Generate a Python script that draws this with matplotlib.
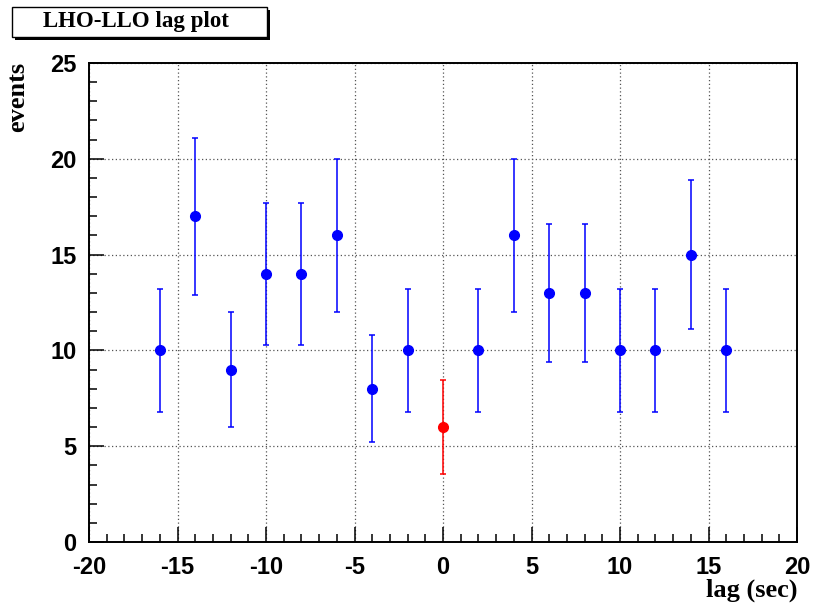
import numpy as np
import matplotlib
matplotlib.use('Agg')
import matplotlib.pyplot as plt
from matplotlib.patches import Rectangle
from matplotlib.ticker import MultipleLocator

plt.rcParams['axes.unicode_minus'] = False

# lag values (sec) and event counts
lags = [-16, -14, -12, -10, -8, -6, -4, -2, 0, 2, 4, 6, 8, 10, 12, 14, 16]
events = [10, 17, 9, 14, 14, 16, 8, 10, 6, 10, 16, 13, 13, 10, 10, 15, 10]
errors = [3.2, 4.1, 3.0, 3.7, 3.7, 4.0, 2.8, 3.2, 2.45, 3.2, 4.0, 3.6, 3.6, 3.2, 3.2, 3.9, 3.2]
zero_lag = 0

sans = 'Liberation Sans'
serif = 'Liberation Serif'

fig = plt.figure(figsize=(8.13, 6.03), dpi=100)
ax = fig.add_axes([89/813, 61/603, 708/813, 479/603])

lags = np.array(lags)
events = np.array(events)
errors = np.array(errors)
bg = lags != zero_lag
zl = lags == zero_lag

ax.errorbar(lags[bg], events[bg], yerr=errors[bg], fmt='o', color='#0000ff',
            ms=7, elinewidth=1.1, capsize=2.5, capthick=1.1, zorder=3)
ax.errorbar(lags[zl], events[zl], yerr=errors[zl], fmt='o', color='#ff0000',
            ms=7, elinewidth=1.1, capsize=2.5, capthick=1.1, zorder=3)

ax.set_xlim(-20, 20)
ax.set_ylim(0, 25)
ax.xaxis.set_major_locator(MultipleLocator(5))
ax.xaxis.set_minor_locator(MultipleLocator(1))
ax.yaxis.set_major_locator(MultipleLocator(5))
ax.yaxis.set_minor_locator(MultipleLocator(1))
ax.grid(True, which='major', linestyle=(0, (1, 2)), color='#555555', linewidth=0.9)
ax.set_axisbelow(True)

ax.tick_params(which='both', direction='in', top=False, right=False,
               width=1.1, color='black')
ax.tick_params(which='major', length=11)
ax.tick_params(which='minor', length=6)
ax.tick_params(axis='x', which='major', pad=10)
ax.tick_params(axis='y', which='major', pad=9)
for lab in ax.get_xticklabels() + ax.get_yticklabels():
    lab.set_fontfamily(sans)
    lab.set_fontweight('bold')
    lab.set_fontsize(17)
for sp in ax.spines.values():
    sp.set_linewidth(1.4)

# axis titles, ROOT style (aligned to the axis ends)
fig.text(797/813, 1 - 590/603, 'lag (sec)', family=serif, weight='bold',
         fontsize=19, ha='right', va='center')
fig.text(18/813, 1 - 62/603, 'events', family=serif, weight='bold',
         fontsize=19, ha='center', va='top', rotation=90)

# title box with shadow
W, H = 813, 603
fig.patches.append(Rectangle((15/W, 1 - 40/H), 255/W, 30/H, transform=fig.transFigure,
                             facecolor='black', edgecolor='none', zorder=1))
fig.patches.append(Rectangle((12/W, 1 - 37/H), 255/W, 30/H, transform=fig.transFigure,
                             facecolor='white', edgecolor='black', linewidth=1.0, zorder=2))
fig.text(136/W, 1 - 22/H, 'LHO-LLO lag plot', family=serif, weight='bold',
         fontsize=16.5, ha='center', va='center', zorder=3)

fig.savefig('out.png', dpi=100)
